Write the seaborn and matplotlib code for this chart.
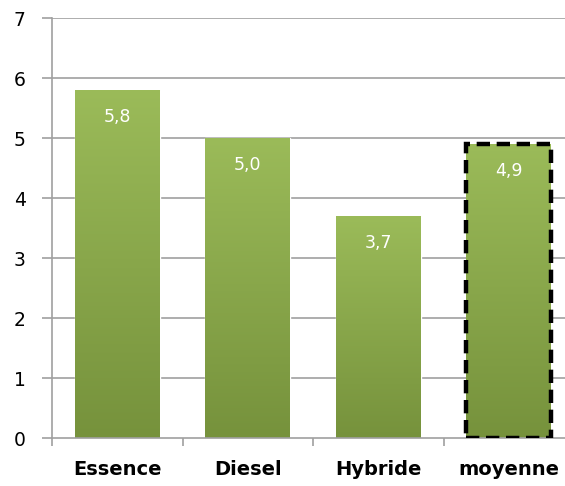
import matplotlib
matplotlib.use("Agg")
import matplotlib.pyplot as plt
import seaborn as sns
import numpy as np
import pandas as pd
from matplotlib.colors import LinearSegmentedColormap

categories = ["Essence", "Diesel", "Hybride", "moyenne"]
values = [5.8, 5.0, 3.7, 4.9]
labels = ["5,8", "5,0", "3,7", "4,9"]
yticks = [0, 1, 2, 3, 4, 5, 6, 7]

sns.set_theme(style="white")
plt.rcParams['font.family'] = ['DejaVu Sans']

df = pd.DataFrame({"cat": categories, "val": values})

fig = plt.figure(figsize=(5.65, 4.86), dpi=100)
ax = fig.add_axes([52/565, 48/486, 522/565, 420/486])

sns.barplot(data=df, x="cat", y="val", ax=ax, color="#8aa84a", width=0.65,
            saturation=1, order=categories)

cmap = LinearSegmentedColormap.from_list("g", ["#76923c", "#9bbb59"])
grad = np.linspace(0, 1, 256).reshape(-1, 1)
for i, p in enumerate(ax.patches):
    x0, y0 = p.get_x(), p.get_y()
    w, h = p.get_width(), p.get_height()
    im = ax.imshow(grad, cmap=cmap, origin="lower", aspect="auto",
                   extent=[x0, x0 + w, y0, y0 + h], zorder=p.get_zorder() + 0.1)
    im.set_clip_path(p)
    ax.text(x0 + w / 2, y0 + h - 0.45, labels[i], ha="center", va="center",
            color="white", fontsize=12.5, zorder=5)

last = ax.patches[3]
last.set_edgecolor("black")
last.set_linewidth(3.2)
last.set_linestyle((0, (3, 1.5)))
last.set_zorder(4)
last.set_facecolor("none")

ax.set_xlim(-0.5, 3.5)
ax.set_ylim(0, 7)
ax.set_yticks(yticks)
ax.set_yticklabels([str(v) for v in yticks], fontsize=13.5, color="black")
ax.set_xticks(range(len(categories)))
ax.set_xticklabels(categories, fontsize=14, fontweight="bold", color="black")
ax.set_xlabel("")
ax.set_ylabel("")

for yv in yticks[1:]:
    ax.axhline(yv, color="#a0a0a0", lw=1.2, zorder=0)

for s in ["top", "right"]:
    ax.spines[s].set_visible(False)
for s in ["left", "bottom"]:
    ax.spines[s].set_color("#a0a0a0")
    ax.spines[s].set_linewidth(1.2)

ax.tick_params(axis="y", which="major", length=7, width=1.2, color="#a0a0a0",
               direction="out", left=True, pad=12)
ax.tick_params(axis="x", which="major", length=0, pad=16)
ax.set_xticks([-0.5, 0.5, 1.5, 2.5, 3.5], minor=True)
ax.tick_params(axis="x", which="minor", length=6, width=1.2, color="#a0a0a0",
               direction="out", bottom=True)

fig.savefig("out.png", dpi=100)
